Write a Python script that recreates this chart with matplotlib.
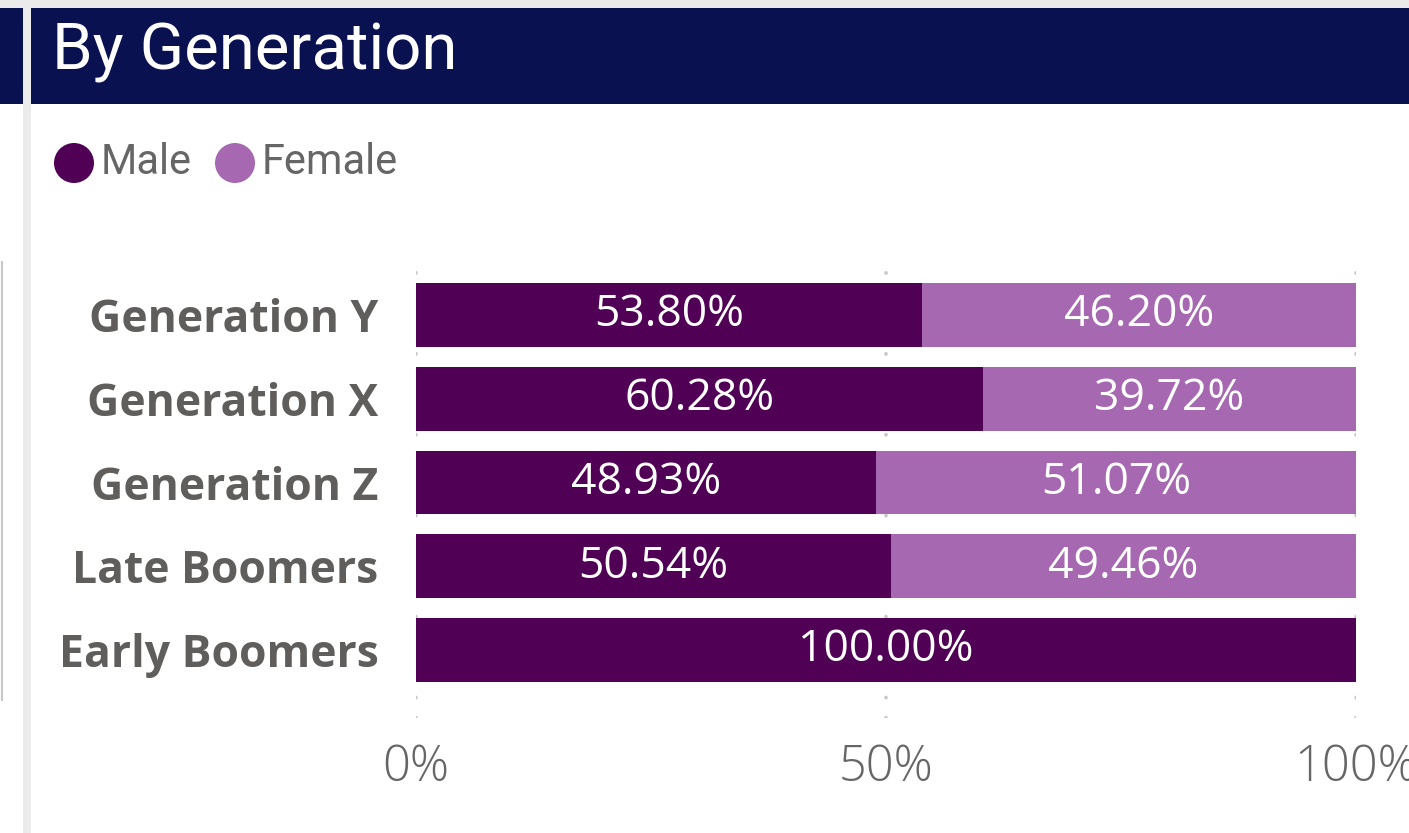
import numpy as np
import matplotlib
matplotlib.use('Agg')
import matplotlib.pyplot as plt
from matplotlib.patches import Rectangle, Ellipse

# Data
categories = ['Generation Y', 'Generation X', 'Generation Z', 'Late Boomers', 'Early Boomers']
male = [53.80, 60.28, 48.93, 50.54, 100.00]
female = [46.20, 39.72, 51.07, 49.46, 0.00]
series_names = ['Male', 'Female']
x_ticks = [0, 50, 100]
x_tick_labels = ['0%', '50%', '100%']

MALE_C = '#500055'
FEMALE_C = '#a668b0'
NAVY = '#0a1150'
GRAY_TXT = '#605e5c'
W, H = 1409, 833


def px(x):
    return x / W


def py(y):
    return 1 - y / H


fig = plt.figure(figsize=(W / 100, H / 100), dpi=100, facecolor='white')

# Background pieces: top strip, header band, separator
fig.patches.append(Rectangle((0, py(8)), 1, 8 / H, transform=fig.transFigure,
                             facecolor='#ebebeb', edgecolor='none', zorder=0))
fig.patches.append(Rectangle((0, py(104)), 1, 96 / H, transform=fig.transFigure,
                             facecolor=NAVY, edgecolor='none', zorder=1))
fig.patches.append(Rectangle((px(23), 0), 8 / W, py(8), transform=fig.transFigure,
                             facecolor='#ebebeb', edgecolor='none', zorder=2))
# left neighbour panel edge
fig.add_artist(plt.Line2D([px(1.5), px(1.5)], [py(262), py(700)], transform=fig.transFigure,
                          color='#c8c8c8', lw=1.5))

fig.text(px(52), py(52), 'By Generation', color='white', fontsize=47,
         family='Roboto', va='center', ha='left')

# Legend
for cx, tx, name, col in [(74, 101, series_names[0], MALE_C), (235, 262, series_names[1], FEMALE_C)]:
    fig.patches.append(Ellipse((px(cx), py(163)), 40 / W, 40 / H, transform=fig.transFigure,
                               facecolor=col, edgecolor='none'))
    fig.text(px(tx), py(162), name, color='#666666', fontsize=30, family='Roboto',
             va='center', ha='left')

# Chart axes
ax = fig.add_axes([px(416), py(718), px(1356) - px(416), (718 - 258) / H])
y = np.arange(len(categories))
bar_h = 64 / 84
ax.barh(y, male, height=bar_h, color=MALE_C, zorder=2)
ax.barh(y, female, left=male, height=bar_h, color=FEMALE_C, zorder=2)

for i in range(len(categories)):
    if male[i] > 0:
        ax.text(male[i] / 2, y[i], f'{male[i]:.2f}%', color='white', fontsize=32,
                family='Open Sans', ha='center', va='center', zorder=3)
    if female[i] > 0:
        ax.text(male[i] + female[i] / 2, y[i], f'{female[i]:.2f}%', color='white', fontsize=32,
                family='Open Sans', ha='center', va='center', zorder=3)

ax.set_xlim(0, 100)
ax.set_ylim(len(categories) - 1 + 68 / 84, -57 / 84)
for xv in x_ticks:
    ax.axvline(xv, color='#c8c8c8', lw=2.6, linestyle=(0, (0.1, 5.5)),
               dash_capstyle='round', zorder=1)

ax.set_xticks(x_ticks)
ax.set_xticklabels(x_tick_labels, fontsize=35, color='#666666', family='Open Sans',
                   fontweight='light')
ax.set_yticks(y)
ax.set_yticklabels(categories, fontsize=32, color=GRAY_TXT, family='Open Sans',
                   fontweight='bold')
ax.tick_params(axis='both', length=0)
ax.tick_params(axis='x', pad=18)
ax.tick_params(axis='y', pad=27)
for s in ax.spines.values():
    s.set_visible(False)
ax.set_facecolor('none')

fig.savefig('out.png', dpi=100, facecolor='white')
